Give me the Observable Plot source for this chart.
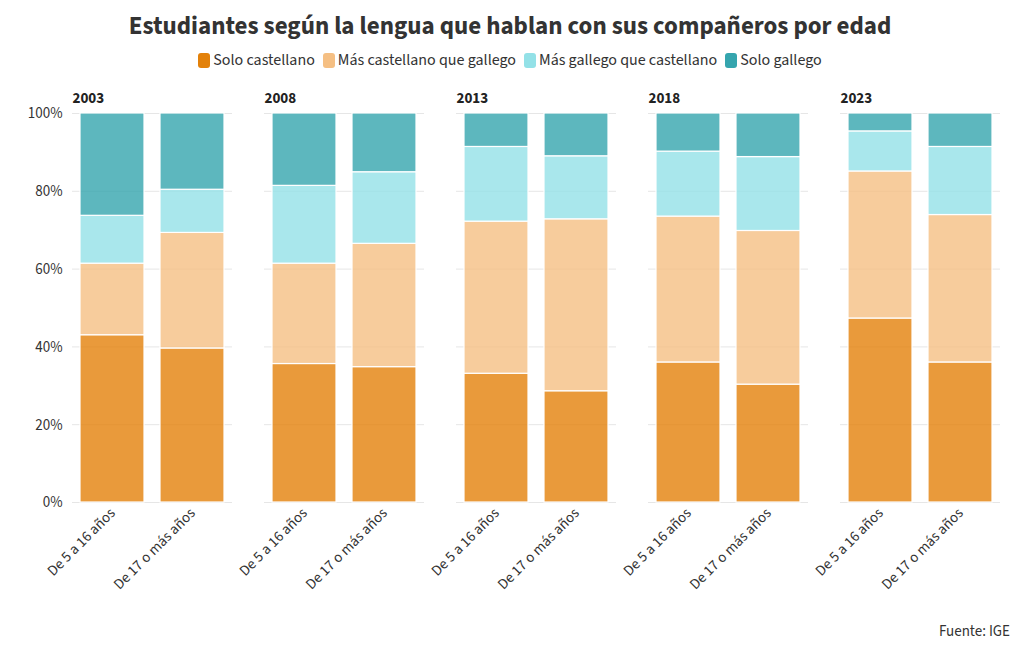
<!DOCTYPE html>
<html>
<head>
<meta charset="utf-8">
<script src="https://cdn.jsdelivr.net/npm/d3@7"></script>
<script src="https://cdn.jsdelivr.net/npm/@observablehq/plot@0.6"></script>
<style>
  body { margin: 0; background: #fff; font-family: "Source Sans 3", "Source Sans Pro", Lato, sans-serif; color: #333; }
  #wrap { width: 1020px; height: 650px; position: relative; }
  h1 { margin: 0; padding-top: 8px; height: 38px; font-size: 25px; font-weight: 700; text-align: center; color: #333; }
  #legend { display: flex; justify-content: center; gap: 8px; font-size: 16px; height: 28px; align-items: center; }
  #legend span.item { display: inline-flex; align-items: center; gap: 3px; }
  #legend span.sw { width: 12px; height: 15px; border-radius: 3px; display: inline-block; }
  #caption { position: absolute; right: 10px; top: 621px; font-size: 15px; }
  svg text { font-family: "Source Sans 3", "Source Sans Pro", Lato, sans-serif; }
</style>
</head>
<body>
<div id="wrap">
  <h1>Estudiantes según la lengua que hablan con sus compañeros por edad</h1>
  <div id="legend"></div>
  <div id="chart"></div>
  <div id="caption">Fuente: IGE</div>
</div>
<script>
const years = ["2003", "2008", "2013", "2018", "2023"];
const ages = ["De 5 a 16 años", "De 17 o más años"];
const categories = ["Solo castellano", "Más castellano que gallego", "Más gallego que castellano", "Solo gallego"];
const colors = ["#E3810A", "#F5BF83", "#93E1E7", "#35A5AE"];
// values per (year, age): order 2003-5a16, 2003-17+, 2008-5a16, ...
const soloCastellano      = [43.0, 39.6, 35.6, 34.8, 33.1, 28.6, 36.0, 30.3, 47.3, 36.0];
const masCastellano       = [18.4, 29.7, 25.8, 31.7, 39.1, 44.2, 37.5, 39.5, 37.8, 37.9];
const masGallego          = [12.3, 11.1, 20.0, 18.4, 19.2, 16.2, 16.7, 19.0, 10.3, 17.5];
const soloGallego         = [26.3, 19.6, 18.6, 15.1,  8.6, 11.0,  9.8, 11.2,  4.6,  8.6];
const yTicks = [0, 20, 40, 60, 80, 100];

const series = [soloCastellano, masCastellano, masGallego, soloGallego];
const data = [];
series.forEach((vals, ci) => {
  years.forEach((yr, yi) => {
    ages.forEach((ag, ai) => {
      data.push({year: yr, age: ag, category: categories[ci], value: vals[yi * 2 + ai]});
    });
  });
});

const legend = document.getElementById("legend");
categories.forEach((c, i) => {
  const it = document.createElement("span");
  it.className = "item";
  it.innerHTML = `<span class="sw" style="background:${colors[i]}"></span>${c}`;
  legend.appendChild(it);
});

const chart = Plot.plot({
  width: 1020,
  height: 533,
  marginTop: 39,
  marginLeft: 72,
  marginRight: 20,
  marginBottom: 105,
  style: {fontSize: "15px", color: "#333"},
  fx: {domain: years, axis: null, paddingInner: 0.1667, paddingOuter: 0},
  x: {domain: ages, paddingInner: 0.2, paddingOuter: 0.1, label: null},
  y: {domain: [0, 100], label: null},
  color: {domain: categories, range: colors},
  marks: [
    Plot.gridY(yTicks, {stroke: "#e6e6e6", strokeOpacity: 1}),
    Plot.barY(data, {fx: "year", x: "age", y: "value", fill: "category", fillOpacity: 0.8, stroke: "white", strokeWidth: 1.2}),
    Plot.axisY({ticks: yTicks, tickSize: 0, tickPadding: 10, tickFormat: d => d + "%", fontSize: 15, fill: "#333"}),
    Plot.axisX({tickRotate: -45, tickSize: 0, tickPadding: 8, fontSize: 15, fill: "#333"}),
    Plot.text(years, {fx: d => d, text: d => d, frameAnchor: "top-left", lineAnchor: "bottom", dy: -11, fontWeight: "bold", fontSize: 15, fill: "#222"})
  ]
});
document.getElementById("chart").appendChild(chart);
</script>
</body>
</html>
